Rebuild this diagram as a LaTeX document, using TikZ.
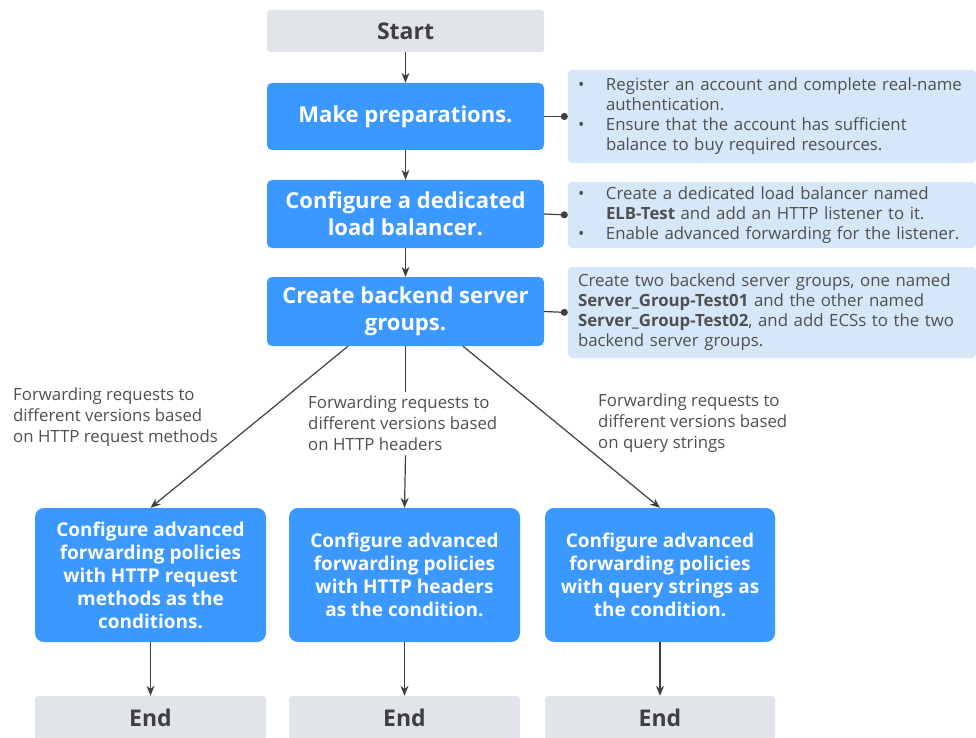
\documentclass[tikz,border=0pt]{standalone}
\usepackage{fontspec}
\setmainfont{Open Sans}
\usetikzlibrary{arrows.meta,calc}

\definecolor{flowblue}{HTML}{3A98FF}
\definecolor{notebg}{HTML}{D6E7FA}
\definecolor{endgray}{HTML}{E1E4E8}
\definecolor{inkgray}{HTML}{3F3F3F}
\definecolor{textgray}{HTML}{4F4F4F}

\tikzset{
  termbox/.style={fill=endgray, rounded corners=3pt, minimum width=277pt, minimum height=42pt,
    font=\fontsize{23}{27}\selectfont\bfseries, text=inkgray, inner sep=0pt},
  stepbox/.style={fill=flowblue, rounded corners=5pt, minimum width=277pt, minimum height=68pt,
    font=\fontsize{22}{27}\selectfont\bfseries, text=white, align=center, inner sep=0pt},
  condbox/.style={fill=flowblue, rounded corners=9pt, minimum width=231pt, minimum height=134pt,
    font=\fontsize{19}{23}\selectfont\bfseries, text=white, align=center, inner sep=0pt},
  notebox/.style={fill=notebg, rounded corners=4pt, minimum width=408pt, text width=392pt,
    font=\fontsize{16.8}{20}\selectfont, text=textgray, align=left, inner xsep=8pt, inner ysep=0pt},
  branchlbl/.style={font=\fontsize{16.8}{21}\selectfont, text=textgray, align=left, inner sep=0pt},
  arr/.style={draw=inkgray, line width=1.2pt, -{Stealth[length=10pt,width=8pt]}},
  dotline/.style={draw=inkgray, line width=1.2pt, -{Circle[length=7pt]}},
}
\newcommand{\bul}{\makebox[30pt][l]{\hspace*{2pt}\textbullet}}
\newcommand{\ind}{\hspace*{30pt}}

\begin{document}
\begin{tikzpicture}[x=1pt,y=-1pt]
  \useasboundingbox (0,0) rectangle (976,738);

  % main column
  \node[termbox] (start) at (405.5,31) {Start};
  \node[stepbox, minimum height=67pt] (prep) at (405.5,116.5) {Make preparations.};
  \node[stepbox] (elb) at (405.5,214) {Configure a dedicated\\load balancer.};
  \node[stepbox, minimum height=69pt] (groups) at (405.5,311.5) {Create backend server\\groups.};

  % notes on the right
  \node[notebox, minimum height=93pt] (note1) at (772,116.5)
    {\bul Register an account and complete real-name\\
     \ind authentication.\\
     \bul Ensure that the account has sufficient\\
     \ind balance to buy required resources.};
  \node[notebox, minimum height=66pt] (note2) at (772,215)
    {\bul Create a dedicated load balancer named\\
     \ind\textbf{ELB-Test} and add an HTTP listener to it.\\
     \bul Enable advanced forwarding for the listener.};
  \node[notebox, minimum height=91pt, inner xsep=10pt, text width=388pt] (note3) at (772,312.5)
    {Create two backend server groups, one named\\
     \textbf{Server\_Group-Test01} and the other named\\
     \textbf{Server\_Group-Test02}, and add ECSs to the two\\
     backend server groups.};

  \draw[arr] (start) -- (prep);
  \draw[arr] (prep) -- (elb);
  \draw[arr] (elb) -- (groups);
  \draw[dotline] (prep.east) -- (note1.west);
  \draw[dotline] (elb.east) -- (note2.west);
  \draw[dotline] (groups.east) -- (note3.west);

  % three branches
  \node[condbox] (cond1) at (150.5,575)
    {Configure advanced\\forwarding policies\\with HTTP request\\methods as the\\conditions.};
  \node[condbox] (cond2) at (404.5,575)
    {Configure advanced\\forwarding policies\\with HTTP headers\\as the condition.};
  \node[condbox, minimum width=230pt] (cond3) at (660,575)
    {Configure advanced\\forwarding policies\\with query strings as\\the condition.};

  \node[branchlbl, anchor=north west] (lbl1) at (13,388)
    {Forwarding requests to\\different versions based\\on HTTP request methods};
  \node[branchlbl, anchor=north west, inner ysep=4pt] (lbl2) at (308,392)
    {Forwarding requests to\\different versions based\\on HTTP headers};
  \node[branchlbl, anchor=north west] (lbl3) at (598,394)
    {Forwarding requests to\\different versions based\\on query strings};

  \draw[arr] ($(groups.south)+(-57.5,0)$) -- (cond1.north);
  \draw[draw=inkgray, line width=1.2pt] (groups.south) -- (groups.south |- lbl2.north);
  \draw[arr] (groups.south |- lbl2.south) -- (cond2.north);
  \draw[arr] ($(groups.south)+(57.5,0)$) -- (cond3.north);

  % ends
  \node[termbox, minimum width=231pt, minimum height=44pt] (end1) at (150.5,718) {End};
  \node[termbox, minimum width=231pt, minimum height=44pt] (end2) at (404.5,718) {End};
  \node[termbox, minimum width=230pt, minimum height=44pt] (end3) at (660,718) {End};

  \draw[arr] (cond1) -- (end1);
  \draw[arr] (cond2) -- (end2);
  \draw[arr] (cond3) -- (end3);
\end{tikzpicture}
\end{document}
